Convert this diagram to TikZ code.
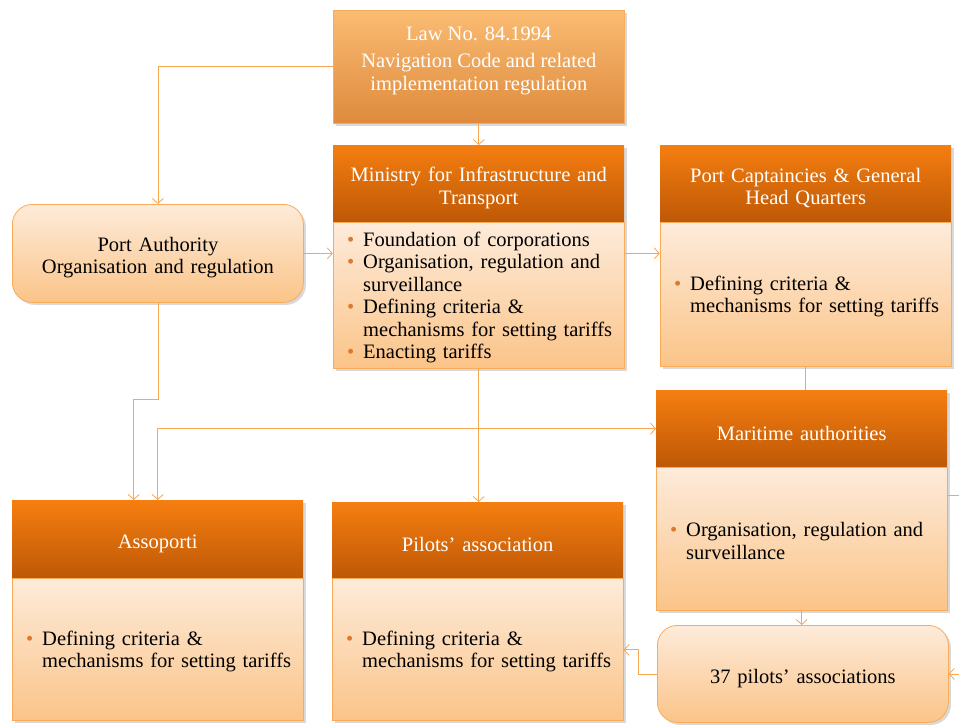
\documentclass[tikz,border=0pt]{standalone}
\usepackage{fontspec}
\setmainfont{Liberation Serif}
\usetikzlibrary{positioning,arrows.meta,shadows}
\definecolor{hdrtop}{RGB}{245,126,16}
\definecolor{hdrbot}{RGB}{190,88,6}
\definecolor{bodytop}{RGB}{253,235,218}
\definecolor{bodybot}{RGB}{251,196,136}
\definecolor{bodyline}{RGB}{248,172,90}
\definecolor{lawtop}{RGB}{250,188,115}
\definecolor{lawbot}{RGB}{222,138,60}
\definecolor{linkc}{RGB}{247,166,82}
\definecolor{bulc}{RGB}{222,120,45}
\newcommand\boxfont{\fontsize{20.5}{22.5}\selectfont}
\newcommand\itm[1]{\par\noindent\makebox[22pt][l]{\hspace{6pt}\textcolor{bulc}{\textbullet}}%
  \parbox[t]{252pt}{\raggedright #1\par\xdef\itmdp{\the\prevdepth}}\par\prevdepth=\itmdp\relax}
\tikzset{
  shade/.style={drop shadow={opacity=0.3,shadow xshift=2.5pt,shadow yshift=-2.5pt}},
  lower/.style={execute at begin node={\rule{0pt}{23pt}}},
  hdr/.style={shade,lower,top color=hdrtop,bottom color=hdrbot,text=white,font=\boxfont,
    minimum width=291pt,text width=275pt,inner xsep=8pt,align=center,anchor=north west},
  bodybox/.style={shade,draw=bodyline,line width=0.8pt,top color=bodytop,bottom color=bodybot,
    font=\boxfont,minimum width=291pt,text width=275pt,inner xsep=8pt,inner ysep=0pt,align=left,
    execute at end node={\par\vspace*{5pt}}},
  lawbox/.style={shade,draw=bodyline,line width=0.6pt,top color=lawtop,bottom color=lawbot,
    minimum width=291pt,minimum height=113pt,anchor=north west},
  roundbox/.style={shade,lower,draw=bodyline,line width=0.8pt,rounded corners=20pt,top color=bodytop,
    bottom color=bodybot,font=\boxfont,minimum width=291pt,text width=275pt,align=center,
    anchor=north west},
  link/.style={draw=linkc,line width=0.8pt},
  arr/.style={link,-{Straight Barb[length=5pt,width=11pt]}}
}
\begin{document}
\begin{tikzpicture}[x=1pt,y=-1pt]
  \useasboundingbox (0,0) rectangle (959,724);
  \clip (0,0) rectangle (959,724);
  \node[lawbox] (law) at (333,10) {};
  \node[text=white,font=\boxfont,align=center] (lawtxt) at ([yshift=6pt]law.center)
    {Law No. 84.1994\\[5pt]Navigation Code and related\\implementation regulation};
  \node[hdr,minimum height=77pt] (minH) at (333,145) {Ministry for Infrastructure and\\Transport};
  \node[bodybox,minimum height=146pt,below=0pt of minH] (minB)
    {\itm{Foundation of corporations}
     \itm{Organisation, regulation and\\surveillance}
     \itm{Defining criteria \&\\mechanisms for setting tariffs}
     \itm{Enacting tariffs}};
  \node[hdr,minimum height=77pt] (capH) at (660,145) {Port Captaincies \& General\\Head Quarters};
  \node[bodybox,minimum height=144pt,below=0pt of capH] (capB)
    {\itm{Defining criteria \&\\mechanisms for setting tariffs}};
  \node[roundbox,minimum height=98pt] (pa) at (12,204) {Port Authority\\Organisation and regulation};
  \node[hdr,minimum height=77pt] (marH) at (656,390) {Maritime authorities};
  \node[bodybox,minimum height=143pt,below=0pt of marH] (marB)
    {\itm{Organisation, regulation and\\surveillance}};
  \node[roundbox,minimum height=97pt] (p37) at (657,625) {37 pilots’ associations};
  \node[hdr,minimum height=78pt] (assH) at (12,500) {Assoporti};
  \node[bodybox,minimum height=142pt,below=0pt of assH] (assB)
    {\itm{Defining criteria \&\\mechanisms for setting tariffs}};
  \node[hdr,minimum height=76pt] (pilH) at (332,502) {Pilots’ association};
  \node[bodybox,minimum height=142pt,below=0pt of pilH] (pilB)
    {\itm{Defining criteria \&\\mechanisms for setting tariffs}};
  \coordinate (split) at (minB.south |- marH.west);
  \coordinate (away) at (975,495);
  \draw[arr] (law.west) -| (pa.north);
  \draw[arr] (law.south) -- (law.south |- minH.north);
  \draw[arr] (pa.east) -- (pa.east -| minB.west);
  \draw[arr] (pa.east -| minB.east) -- (pa.east -| capB.west);
  \draw[link] (capB.south) -- (capB.south |- marH.north);
  \draw[arr] (pa.south) -- ++(0,97) -| ([xshift=-24pt]assH.north);
  \draw[arr] (minB.south) -- (minB.south |- pilH.north);
  \draw[arr] (split) -- (marH.west);
  \draw[arr] (split) -| (assH.north);
  \draw[arr] (marB.south) -- (marB.south |- p37.north);
  \draw[arr] (p37.west) -- ++(-19,0) |- (pilB.east);
  \draw[arr] (marB.east |- away) -- (away) |- (p37.east);
\end{tikzpicture}
\end{document}
